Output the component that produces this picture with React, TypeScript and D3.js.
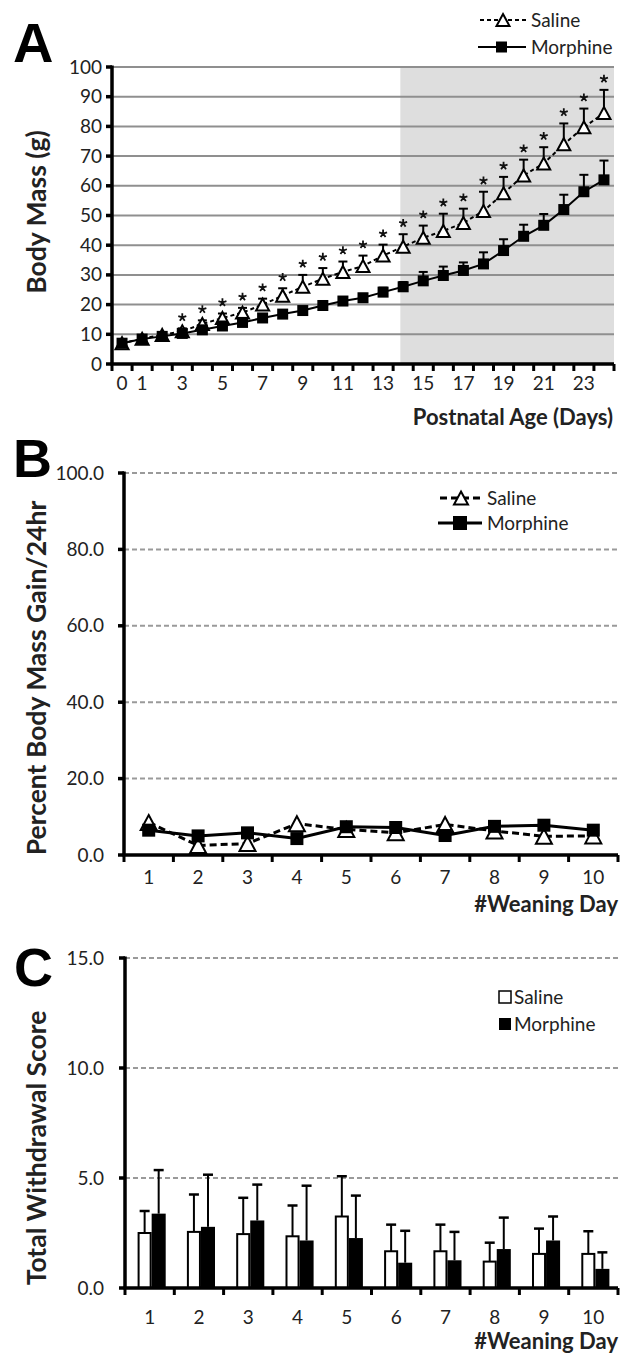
import React from "react";
import * as d3 from "d3";

// ---------- Panel A data ----------
const AGE_DAYS = [0, 1, 2, 3, 4, 5, 6, 7, 8, 9, 10, 11, 12, 13, 14, 15, 16, 17, 18, 19, 20, 21, 22, 23, 24];
const AGE_TICK_LABELS = [0, 1, 3, 5, 7, 9, 11, 13, 15, 17, 19, 21, 23];
const SALINE_MASS = [7.0, 8.5, 9.8, 11.0, 13.5, 15.5, 17.3, 20.0, 23.0, 26.0, 28.7, 31.0, 33.0, 36.5, 39.5, 42.5, 44.8, 47.5, 51.5, 57.5, 63.5, 67.5, 74.0, 79.7, 84.5];
const SALINE_MASS_SEM = [0.5, 0.5, 0.6, 1.0, 1.2, 1.5, 1.6, 2.0, 2.5, 4.0, 3.6, 3.5, 3.5, 3.7, 4.2, 4.1, 5.8, 4.8, 6.5, 5.5, 5.3, 5.5, 7.0, 6.3, 7.8];
const MORPHINE_MASS = [7.0, 8.4, 9.3, 10.3, 11.5, 12.8, 14.0, 15.5, 16.8, 18.0, 19.7, 21.2, 22.3, 24.2, 26.0, 28.0, 29.8, 31.5, 33.7, 38.2, 43.0, 46.7, 52.0, 58.0, 62.0];
const MORPHINE_MASS_SEM = [0.4, 0.4, 0.5, 0.6, 0.7, 0.8, 0.8, 0.9, 1.0, 1.0, 1.2, 1.2, 1.3, 1.5, 1.6, 3.0, 3.0, 2.7, 3.9, 3.8, 3.9, 3.8, 5.0, 5.7, 6.5];
const SIGNIFICANT_DAYS = [3, 4, 5, 6, 7, 8, 9, 10, 11, 12, 13, 14, 15, 16, 17, 18, 19, 20, 21, 22, 23, 24];
const SHADE_START_DAY = 13.86; // in day-center units
const MASS_TICKS = [0, 10, 20, 30, 40, 50, 60, 70, 80, 90, 100];

// ---------- Panel B data ----------
const WEANING_DAYS = [1, 2, 3, 4, 5, 6, 7, 8, 9, 10];
const SALINE_GAIN = [8.5, 2.5, 3.0, 8.2, 6.7, 5.8, 8.0, 6.3, 4.9, 5.0];
const MORPHINE_GAIN = [6.5, 5.0, 5.8, 4.3, 7.4, 7.2, 5.1, 7.5, 7.8, 6.5];
const GAIN_TICKS = [0, 20, 40, 60, 80, 100];

// ---------- Panel C data ----------
const SALINE_WITHDRAWAL = [2.5, 2.55, 2.45, 2.35, 3.25, 1.67, 1.67, 1.2, 1.55, 1.55];
const SALINE_WITHDRAWAL_UPPER = [3.5, 4.25, 4.1, 3.75, 5.08, 2.88, 2.88, 2.06, 2.7, 2.58];
const MORPHINE_WITHDRAWAL = [3.38, 2.78, 3.07, 2.16, 2.27, 1.15, 1.26, 1.77, 2.16, 0.87];
const MORPHINE_WITHDRAWAL_UPPER = [5.36, 5.15, 4.7, 4.65, 4.2, 2.6, 2.55, 3.2, 3.25, 1.62];
const SCORE_TICKS = [0, 5, 10, 15];

const FONT = "Lato, 'Open Sans', sans-serif";
const LETTER_FONT = "'Liberation Sans', Arial, sans-serif";
const TICK_FS = 19;
const YTITLE_FS = 26.5;
const XTITLE_FS = 22;

function triPath(cx: number, cy: number, w: number, h: number) {
  return `M${cx},${cy - h / 2}L${cx + w / 2},${cy + h / 2}L${cx - w / 2},${cy + h / 2}Z`;
}

function starPath(cx: number, cy: number, r: number) {
  const p = d3.path();
  for (let k = 0; k < 5; k++) {
    const a = -Math.PI / 2 + (k * 2 * Math.PI) / 5;
    p.moveTo(cx, cy);
    p.lineTo(cx + r * Math.cos(a), cy + r * Math.sin(a));
  }
  return p.toString();
}

function CatXAxis({ x, y, labels, labelY }: any) {
  const dom = x.domain();
  const bw = x.bandwidth();
  const r = x.range();
  const bounds = dom.map((d: number) => x(d)).concat([r[1]]);
  return (
    <g>
      <line x1={r[0] - 1.5} x2={r[1]} y1={y} y2={y} stroke="#000" strokeWidth={3.5} />
      {bounds.map((b: number, i: number) => (
        <line key={i} x1={b} x2={b} y1={y} y2={y + 7} stroke="#000" strokeWidth={3} />
      ))}
      {labels.map((l: number) => (
        <text key={l} x={x(l)! + bw / 2} y={labelY} fontSize={TICK_FS} fontFamily={FONT} textAnchor="middle" fill="#222">
          {l}
        </text>
      ))}
    </g>
  );
}

function YAxis({ x, y, ticks, fmt, labelX }: any) {
  const [d0, d1] = y.domain();
  return (
    <g>
      <line x1={x} x2={x} y1={y(d1) - 1.5} y2={y(d0)} stroke="#000" strokeWidth={3.5} />
      {ticks.map((t: number) => (
        <g key={t}>
          <line x1={x - 6} x2={x} y1={y(t)} y2={y(t)} stroke="#000" strokeWidth={3.5} />
          <text x={labelX} y={y(t) + 6.5} fontSize={TICK_FS} fontFamily={FONT} textAnchor="end" fill="#222">
            {fmt(t)}
          </text>
        </g>
      ))}
    </g>
  );
}

function PanelA() {
  const x = d3.scaleBand<number>().domain(AGE_DAYS).range([112, 614]).padding(0);
  const bw = x.bandwidth();
  const cx = (d: number) => x(d)! + bw / 2;
  const y = d3.scaleLinear().domain([0, 100]).range([364, 67]);
  const line = d3.line<number>().x((_, i) => cx(AGE_DAYS[i])).y((v) => y(v));
  const shadeX = 112 + (SHADE_START_DAY + 0.5) * bw;
  return (
    <g>
      <rect x={shadeX} y={y(100)} width={614 - shadeX} height={y(0) - y(100)} fill="#dedede" />
      {MASS_TICKS.filter((t) => t > 0).map((t) => (
        <line key={t} x1={112} x2={614} y1={y(t)} y2={y(t)} stroke="#8f8f8f" strokeWidth={2} />
      ))}
      <path d={line(SALINE_MASS)!} fill="none" stroke="#000" strokeWidth={2} strokeDasharray="4,3" />
      <path d={line(MORPHINE_MASS)!} fill="none" stroke="#000" strokeWidth={2} />
      {AGE_DAYS.map((d, i) => {
        const top = y(SALINE_MASS[i] + SALINE_MASS_SEM[i]);
        return (
          <g key={"es" + d}>
            <line x1={cx(d)} x2={cx(d)} y1={y(SALINE_MASS[i])} y2={top} stroke="#000" strokeWidth={2} />
            <line x1={cx(d) - 4.5} x2={cx(d) + 4.5} y1={top} y2={top} stroke="#000" strokeWidth={2} />
          </g>
        );
      })}
      {AGE_DAYS.map((d, i) => {
        const top = y(MORPHINE_MASS[i] + MORPHINE_MASS_SEM[i]);
        return (
          <g key={"em" + d}>
            <line x1={cx(d)} x2={cx(d)} y1={y(MORPHINE_MASS[i])} y2={top} stroke="#000" strokeWidth={2} />
            <line x1={cx(d) - 4.5} x2={cx(d) + 4.5} y1={top} y2={top} stroke="#000" strokeWidth={2} />
          </g>
        );
      })}
      {AGE_DAYS.map((d, i) => (
        <path key={"ts" + d} d={triPath(cx(d), y(SALINE_MASS[i]), 13, 12)} fill="#fff" stroke="#000" strokeWidth={2} />
      ))}
      {AGE_DAYS.map((d, i) => (
        <rect key={"sm" + d} x={cx(d) - 5.5} y={y(MORPHINE_MASS[i]) - 5.5} width={11} height={11} fill="#000" />
      ))}
      {SIGNIFICANT_DAYS.map((d) => {
        const i = AGE_DAYS.indexOf(d);
        return (
          <path key={"st" + d} d={starPath(cx(d), y(SALINE_MASS[i] + SALINE_MASS_SEM[i]) - 11, 4.2)} stroke="#111" strokeWidth={1.8} fill="none" />
        );
      })}
      <YAxis x={112} y={y} ticks={MASS_TICKS} fmt={(t: number) => String(t)} labelX={102} />
      <CatXAxis x={x} y={364} labels={AGE_TICK_LABELS} labelY={390} />
      <text x={613} y={425} fontSize={XTITLE_FS} fontWeight="bold" fontFamily={FONT} textAnchor="end" fill="#222">
        Postnatal Age (Days)
      </text>
      <text transform={`translate(46,212) rotate(-90)`} fontSize={YTITLE_FS} fontWeight="bold" fontFamily={FONT} textAnchor="middle" fill="#222">
        Body Mass (g)
      </text>
      <text x={13} y={62} fontSize={56} fontWeight="bold" fontFamily={LETTER_FONT} fill="#000">A</text>
      <line x1={480} x2={526} y1={20} y2={20} stroke="#000" strokeWidth={2} strokeDasharray="4,3" />
      <path d={triPath(503, 20, 13, 12)} fill="#fff" stroke="#000" strokeWidth={2} />
      <text x={531} y={27} fontSize={19} fontFamily={FONT} fill="#222">Saline</text>
      <line x1={478} x2={526} y1={47} y2={47} stroke="#000" strokeWidth={2} />
      <rect x={496} y={41.5} width={11} height={11} fill="#000" />
      <text x={531} y={54} fontSize={19} fontFamily={FONT} fill="#222">Morphine</text>
    </g>
  );
}

function PanelB() {
  const x = d3.scaleBand<number>().domain(WEANING_DAYS).range([124, 618]).padding(0);
  const bw = x.bandwidth();
  const cx = (d: number) => x(d)! + bw / 2;
  const y = d3.scaleLinear().domain([0, 100]).range([855, 473]);
  const line = d3.line<number>().x((_, i) => cx(WEANING_DAYS[i])).y((v) => y(v));
  return (
    <g>
      {GAIN_TICKS.filter((t) => t > 0).map((t) => (
        <line key={t} x1={124} x2={618} y1={y(t)} y2={y(t)} stroke="#9a9a9a" strokeWidth={2} strokeDasharray="5,3" />
      ))}
      <path d={line(SALINE_GAIN)!} fill="none" stroke="#000" strokeWidth={3} strokeDasharray="7,4" />
      {WEANING_DAYS.map((d, i) => (
        <path key={"t" + d} d={triPath(cx(d), y(SALINE_GAIN[i]), 16, 15)} fill="#fff" stroke="#000" strokeWidth={2} />
      ))}
      <path d={line(MORPHINE_GAIN)!} fill="none" stroke="#000" strokeWidth={3} />
      {WEANING_DAYS.map((d, i) => (
        <rect key={"s" + d} x={cx(d) - 6.5} y={y(MORPHINE_GAIN[i]) - 6.5} width={13} height={13} fill="#000" />
      ))}
      <YAxis x={124} y={y} ticks={GAIN_TICKS} fmt={(t: number) => t.toFixed(1)} labelX={104} />
      <CatXAxis x={x} y={855} labels={WEANING_DAYS} labelY={884} />
      <text x={618} y={912} fontSize={XTITLE_FS} fontWeight="bold" fontFamily={FONT} textAnchor="end" fill="#222">
        #Weaning Day
      </text>
      <text transform={`translate(46,678) rotate(-90)`} fontSize={YTITLE_FS} fontWeight="bold" fontFamily={FONT} textAnchor="middle" fill="#222">
        Percent Body Mass Gain/24hr
      </text>
      <text x={13} y={477} fontSize={54} fontWeight="bold" fontFamily={LETTER_FONT} fill="#000">B</text>
      <line x1={440} x2={482} y1={498} y2={498} stroke="#000" strokeWidth={3} strokeDasharray="7,4" />
      <path d={triPath(461, 498, 14, 13)} fill="#fff" stroke="#000" strokeWidth={2} />
      <text x={487} y={505} fontSize={19} fontFamily={FONT} fill="#222">Saline</text>
      <line x1={438} x2={482} y1={523} y2={523} stroke="#000" strokeWidth={3} />
      <rect x={453} y={516} width={14} height={14} fill="#000" />
      <text x={487} y={530} fontSize={19} fontFamily={FONT} fill="#222">Morphine</text>
    </g>
  );
}

function PanelC() {
  const x = d3.scaleBand<number>().domain(WEANING_DAYS).range([125, 618]).padding(0);
  const bw = x.bandwidth();
  const y = d3.scaleLinear().domain([0, 15]).range([1288, 958]);
  const barW = bw * 0.285;
  const gx = (d: number) => x(d)! + bw / 2 + 2;
  return (
    <g>
      {SCORE_TICKS.filter((t) => t > 0).map((t) => (
        <line key={t} x1={125} x2={618} y1={y(t)} y2={y(t)} stroke="#9a9a9a" strokeWidth={2} strokeDasharray="5,3" />
      ))}
      {WEANING_DAYS.map((d, i) => {
        const xs = gx(d) - barW;
        const xm = gx(d);
        const ts = y(SALINE_WITHDRAWAL_UPPER[i]);
        const tm = y(MORPHINE_WITHDRAWAL_UPPER[i]);
        return (
          <g key={d}>
            <line x1={xs + barW / 2} x2={xs + barW / 2} y1={y(SALINE_WITHDRAWAL[i])} y2={ts} stroke="#000" strokeWidth={2} />
            <line x1={xs + barW / 2 - 5} x2={xs + barW / 2 + 5} y1={ts} y2={ts} stroke="#000" strokeWidth={2.5} />
            <line x1={xm + barW / 2} x2={xm + barW / 2} y1={y(MORPHINE_WITHDRAWAL[i])} y2={tm} stroke="#000" strokeWidth={2} />
            <line x1={xm + barW / 2 - 5} x2={xm + barW / 2 + 5} y1={tm} y2={tm} stroke="#000" strokeWidth={2.5} />
            <rect x={xs + 1} y={y(SALINE_WITHDRAWAL[i])} width={barW - 2} height={y(0) - y(SALINE_WITHDRAWAL[i])} fill="#fff" stroke="#000" strokeWidth={2} />
            <rect x={xm} y={y(MORPHINE_WITHDRAWAL[i])} width={barW} height={y(0) - y(MORPHINE_WITHDRAWAL[i])} fill="#000" />
          </g>
        );
      })}
      <YAxis x={125} y={y} ticks={SCORE_TICKS} fmt={(t: number) => t.toFixed(1)} labelX={104} />
      <CatXAxis x={x} y={1288} labels={WEANING_DAYS} labelY={1324} />
      <text x={618} y={1349} fontSize={XTITLE_FS} fontWeight="bold" fontFamily={FONT} textAnchor="end" fill="#222">
        #Weaning Day
      </text>
      <text transform={`translate(46,1148) rotate(-90)`} fontSize={YTITLE_FS} fontWeight="bold" fontFamily={FONT} textAnchor="middle" fill="#222">
        Total Withdrawal Score
      </text>
      <text x={14} y={986} fontSize={54} fontWeight="bold" fontFamily={LETTER_FONT} fill="#000">C</text>
      <rect x={499} y={991} width={12} height={12} fill="#fff" stroke="#000" strokeWidth={1.5} />
      <text x={514} y={1004} fontSize={19} fontFamily={FONT} fill="#222">Saline</text>
      <rect x={499} y={1018} width={12} height={12} fill="#000" />
      <text x={514} y={1031} fontSize={19} fontFamily={FONT} fill="#222">Morphine</text>
    </g>
  );
}

export default function App() {
  return (
    <svg width={622} height={1353} style={{ position: "absolute", left: 0, top: 0, background: "#fff" }}>
      <rect width={622} height={1353} fill="#fff" />
      <PanelA />
      <PanelB />
      <PanelC />
    </svg>
  );
}
